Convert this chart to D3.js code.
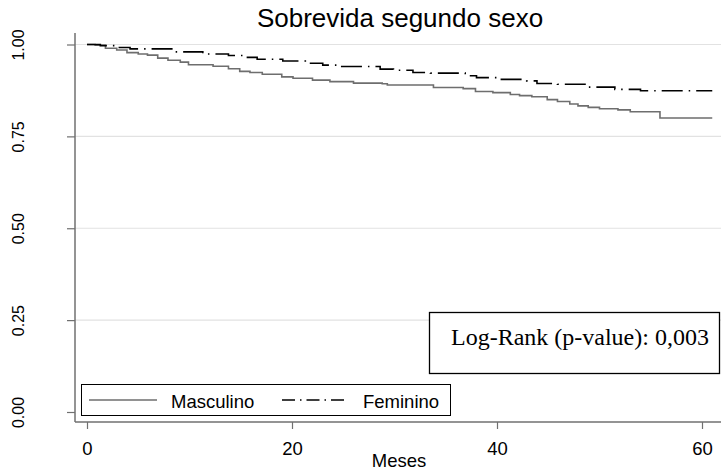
<!DOCTYPE html>
<html>
<head>
<meta charset="utf-8">
<script src="https://cdn.jsdelivr.net/npm/d3@7"></script>
<style>
  html, body { margin: 0; padding: 0; background: #fff; }
  svg { display: block; }
</style>
</head>
<body>
<svg id="chart" width="721" height="472"></svg>
<script>
// Kaplan-Meier survival estimates by sex (months of follow-up)
const masTimes = [0, 0.8, 1.8, 2.9, 3.9, 5.0, 5.9, 6.9, 7.9, 9.1, 9.9, 12.3, 13.8, 14.9, 15.9, 17.1, 19.0, 20.1, 22.0, 23.7, 26.0, 28.8, 29.3, 33.8, 36.7, 37.9, 39.6, 41.3, 42.2, 43.4, 44.9, 45.9, 47.1, 47.9, 48.9, 50.0, 51.8, 53.0, 55.9, 61.0];
const masSurv  = [1, 0.998, 0.990, 0.985, 0.978, 0.974, 0.971, 0.963, 0.957, 0.952, 0.945, 0.941, 0.934, 0.927, 0.924, 0.919, 0.912, 0.908, 0.903, 0.899, 0.895, 0.893, 0.890, 0.883, 0.880, 0.872, 0.869, 0.864, 0.861, 0.858, 0.850, 0.845, 0.838, 0.833, 0.829, 0.825, 0.822, 0.817, 0.800, 0.800];

const femTimes = [0, 1.3, 2.9, 4.2, 8.6, 11.3, 13.8, 15.4, 16.6, 19.1, 21.3, 23.0, 24.7, 28.6, 29.9, 31.8, 33.5, 36.9, 38.0, 40.3, 42.9, 43.9, 45.9, 48.8, 51.5, 54.0, 61.0];
const femSurv  = [1, 0.997, 0.992, 0.988, 0.980, 0.974, 0.970, 0.965, 0.960, 0.955, 0.949, 0.944, 0.940, 0.933, 0.930, 0.924, 0.922, 0.915, 0.910, 0.905, 0.901, 0.894, 0.892, 0.884, 0.878, 0.874, 0.874];

const xTicks = [0, 20, 40, 60];
const yTicks = [0, 0.25, 0.5, 0.75, 1];
const seriesNames = ["Masculino", "Feminino"];
const titleText = "Sobrevida segundo sexo";
const xLabel = "Meses";
const testText = "Log-Rank (p-value): 0,003";

const svg = d3.select("#chart");
const sans = "Liberation Sans, Arial, sans-serif";
const serif = "Liberation Serif, Times New Roman, serif";
const axisColor = "#707070";

const x = d3.scaleLinear().domain([0, 60]).range([87, 702]);
const y = d3.scaleLinear().domain([0, 1]).range([412, 44.5]);
const plotLeft = 75, plotRight = 721, axisY = 422;

// horizontal grid
svg.append("g")
  .selectAll("line")
  .data(yTicks.filter(d => d > 0))
  .join("line")
  .attr("x1", plotLeft).attr("x2", plotRight)
  .attr("y1", d => y(d)).attr("y2", d => y(d))
  .attr("stroke", "#e2e2e2").attr("stroke-width", 1.2);

// y axis
const gy = svg.append("g")
  .attr("transform", `translate(${plotLeft},0)`)
  .call(d3.axisLeft(y).tickValues(yTicks).tickFormat(d3.format(".2f")).tickSize(8).tickSizeOuter(0));
gy.select(".domain").attr("d", `M0,33V${axisY}`).attr("stroke", axisColor).attr("stroke-width", 1.5);
gy.selectAll(".tick line").attr("stroke", axisColor).attr("stroke-width", 1.2);
gy.selectAll(".tick text")
  .attr("x", null).attr("dy", null)
  .attr("transform", "translate(-57,0) rotate(-90)")
  .attr("text-anchor", "middle")
  .attr("dominant-baseline", "central")
  .attr("font-family", sans).attr("font-size", 16).attr("fill", "#000");

// x axis
const gx = svg.append("g")
  .attr("transform", `translate(0,${axisY})`)
  .call(d3.axisBottom(x).tickValues(xTicks).tickSize(7).tickSizeOuter(0));
gx.select(".domain").attr("d", `M${plotLeft},0H${plotRight}`).attr("stroke", axisColor).attr("stroke-width", 1.5);
gx.selectAll(".tick line").attr("stroke", axisColor).attr("stroke-width", 1.2);
gx.selectAll(".tick text")
  .attr("y", 33).attr("dy", null)
  .attr("font-family", sans).attr("font-size", 18.5).attr("fill", "#000");

// survival curves
const step = d3.line()
  .x(d => x(d[0]))
  .y(d => y(d[1]))
  .curve(d3.curveStepAfter);

const masData = masTimes.map((t, i) => [t, masSurv[i]]);
const femData = femTimes.map((t, i) => [t, femSurv[i]]);

svg.append("path")
  .attr("d", step(masData))
  .attr("fill", "none").attr("stroke", "#6e6e6e").attr("stroke-width", 1.6);

svg.append("path")
  .attr("d", step(femData))
  .attr("fill", "none").attr("stroke", "#000").attr("stroke-width", 1.6)
  .attr("stroke-dasharray", "21,6,1.5,6");

// title
svg.append("text")
  .attr("x", 400).attr("y", 26.5)
  .attr("text-anchor", "middle")
  .attr("font-family", sans).attr("font-size", 26)
  .text(titleText);

// x label
svg.append("text")
  .attr("x", 399).attr("y", 467)
  .attr("text-anchor", "middle")
  .attr("font-family", sans).attr("font-size", 18.5)
  .text(xLabel);

// log-rank box
svg.append("rect")
  .attr("x", 429.5).attr("y", 312.5).attr("width", 290).attr("height", 61)
  .attr("fill", "#fff").attr("stroke", "#000").attr("stroke-width", 1.3);
svg.append("text")
  .attr("x", 451).attr("y", 345)
  .attr("font-family", serif).attr("font-size", 24)
  .text(testText);

// legend
const leg = svg.append("g");
leg.append("rect")
  .attr("x", 81.5).attr("y", 384.5).attr("width", 369).attr("height", 31)
  .attr("fill", "#fff").attr("stroke", "#000").attr("stroke-width", 1);
const legItems = [
  { name: seriesNames[0], x1: 89, x2: 157, tx: 171, color: "#6e6e6e", dash: null },
  { name: seriesNames[1], x1: 282, x2: 348, tx: 363, color: "#000", dash: "13,5,1.5,5" }
];
legItems.forEach(it => {
  leg.append("line")
    .attr("x1", it.x1).attr("x2", it.x2).attr("y1", 400).attr("y2", 400)
    .attr("stroke", it.color).attr("stroke-width", 1.6)
    .attr("stroke-dasharray", it.dash);
  leg.append("text")
    .attr("x", it.tx).attr("y", 408)
    .attr("font-family", sans).attr("font-size", 18.5)
    .text(it.name);
});
</script>
</body>
</html>
